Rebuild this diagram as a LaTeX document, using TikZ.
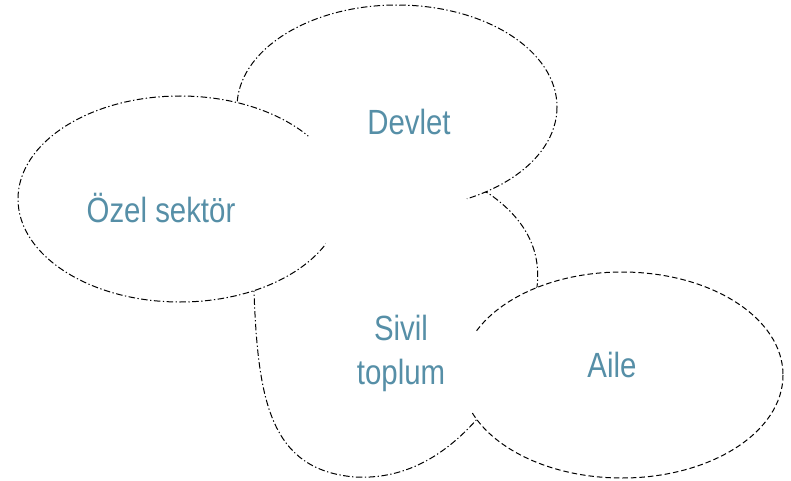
\documentclass[tikz,border=0pt]{standalone}
\usepackage{fontspec}
\usepackage{xcolor}
\usepackage{tikz}
\usetikzlibrary{positioning}
\newfontfamily\labelfont{Liberation Sans}[FakeStretch=0.84]
\definecolor{labelblue}{RGB}{86,143,167}
\tikzset{
  blob/.style     = {fill=white, draw=black, line width=1pt, dash pattern=on 6.5pt off 2.5pt on 1.3pt off 2.5pt},
  aileblob/.style = {fill=white, draw=black, line width=1pt, dash pattern=on 5.5pt off 3pt},
  cover/.style    = {fill=white, draw=none},
  lbl/.style      = {text=labelblue, align=center, inner sep=0pt, anchor=base, font={\labelfont\fontsize{35}{44}\selectfont}},
}

\begin{document}
\begin{tikzpicture}[x=1pt, y=-1pt]
  \useasboundingbox (0,0) rectangle (791,481);
  % sivil toplum sits at the back
  \draw[blob] (252,260) -- (254,292) .. controls (258,400) and (270,470) .. (355,477)
    .. controls (410,480) and (450,450) .. (478,418) -- (537,287)
    .. controls (542,245) and (520,215) .. (488,193) -- (400,160) -- (300,170) -- cycle;
  \draw[blob] (397,107) ellipse [x radius=160, y radius=102];
  \draw[blob] (180,199) ellipse [x radius=162, y radius=103];
  \draw[aileblob] (622,375) ellipse [x radius=161, y radius=103];
  % white patch in the middle hides the inner arcs
  \fill[cover] (300,152) -- (318,118) -- (440,160) -- (478,215) -- (455,315) -- (500,350)
    -- (500,395) -- (455,420) -- (360,440) -- (300,420) -- (318,300) -- (330,210) -- cycle;
  \node[lbl] (devlet) at (409,135) {Devlet};
  \node[lbl] (ozel) at (161,222) {Özel sektör};
  \node[lbl] (sivil) at (401,384) {Sivil\\toplum};
  \node[lbl] (aile) at (612,377) {Aile};
\end{tikzpicture}
\end{document}
